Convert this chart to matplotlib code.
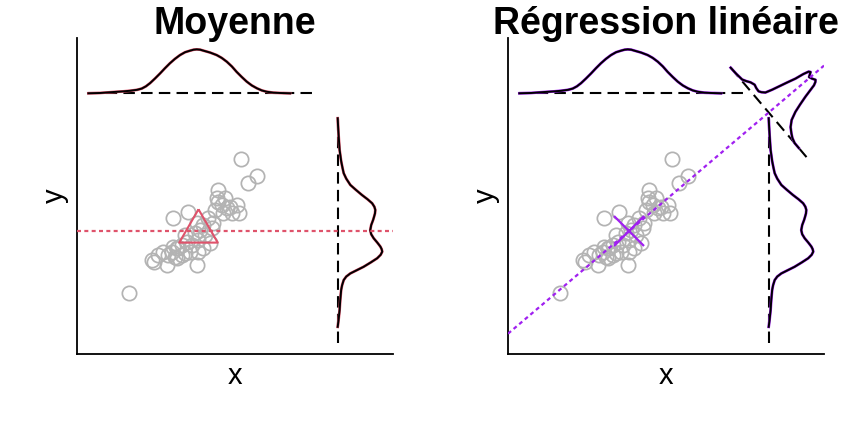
import numpy as np
import matplotlib
matplotlib.use("Agg")
import matplotlib.pyplot as plt

plt.rcParams['font.family'] = ['Liberation Sans', 'DejaVu Sans']

# ---- scatter data (axis units, 0..10) ----
x = np.array([5.19, 5.69, 5.42, 4.47, 4.42, 4.68, 4.58, 4.84, 5.05, 5.13,
              4.90, 4.37, 4.63, 4.74, 4.47, 3.52, 3.05, 4.16, 4.31, 4.00,
              3.79, 3.89, 3.73, 4.05, 3.84, 4.21, 3.47, 3.31, 3.16, 3.00,
              2.89, 2.73, 3.31, 3.58, 3.84, 4.00, 3.63, 3.10, 2.57, 2.36,
              2.45, 2.84, 3.79, 1.66, 4.26, 3.42, 3.21, 3.42, 3.05, 3.16])
y = np.array([6.16, 5.64, 5.40, 5.19, 4.93, 4.93, 4.72, 4.66, 4.72, 4.45,
              4.45, 4.56, 4.45, 4.61, 4.82, 4.50, 4.29, 4.29, 4.14, 4.08,
              4.14, 3.92, 3.82, 3.77, 3.61, 3.50, 3.55, 3.45, 3.34, 3.24,
              3.13, 3.24, 3.13, 3.24, 3.24, 3.34, 3.45, 3.08, 3.13, 2.97,
              2.92, 2.82, 2.82, 1.92, 3.98, 3.77, 3.34, 3.19, 3.40, 3.03])

# ---- marginal density of x (drawn above the plot) ----
xdens_pos = np.array([0.36, 0.73, 1.15, 1.45, 1.68, 1.90, 2.05, 2.18, 2.31, 2.47,
                      2.63, 2.78, 2.94, 3.10, 3.26, 3.42, 3.58, 3.69, 3.79, 3.90,
                      4.00, 4.21, 4.42, 4.58, 4.74, 4.90, 5.05, 5.21, 5.37, 5.53,
                      5.69, 5.85, 6.00, 6.21, 6.42, 6.74])
xdens_h = np.array([0.00, 0.01, 0.04, 0.06, 0.08, 0.11, 0.15, 0.22, 0.32, 0.47,
                    0.63, 0.79, 0.95, 1.09, 1.21, 1.30, 1.35, 1.38, 1.39, 1.38,
                    1.35, 1.29, 1.21, 1.12, 1.00, 0.85, 0.68, 0.52, 0.37, 0.25,
                    0.16, 0.09, 0.05, 0.02, 0.01, 0.00])

# ---- marginal density of y (drawn right of the plot) ----
ydens_pos = np.array([7.46, 7.25, 6.90, 6.46, 6.10, 5.90, 5.72, 5.55, 5.35, 5.19,
                      5.03, 4.90, 4.77, 4.66, 4.56, 4.45, 4.34, 4.24, 4.08, 3.92,
                      3.79, 3.66, 3.53, 3.40, 3.32, 3.24, 3.14, 3.03, 2.90, 2.76,
                      2.65, 2.55, 2.45, 2.34, 2.18, 2.03, 1.70, 1.39, 1.10, 0.86])
ydens_h = np.array([0.00, 0.01, 0.03, 0.06, 0.11, 0.15, 0.19, 0.27, 0.40, 0.58,
                    0.77, 0.94, 1.09, 1.16, 1.19, 1.18, 1.15, 1.12, 1.06, 1.03,
                    1.06, 1.14, 1.25, 1.35, 1.39, 1.41, 1.36, 1.25, 1.05, 0.82,
                    0.60, 0.40, 0.27, 0.19, 0.14, 0.11, 0.08, 0.06, 0.03, 0.00])

# ---- density of residuals (drawn perpendicular to the regression line) ----
resid_off = np.array([-1.86, -1.60, -1.34, -1.22, -1.10, -0.96, -0.84, -0.72, -0.64,
                      -0.55, -0.48, -0.42, -0.35, -0.27, -0.22, -0.17, -0.12, -0.03,
                      0.07, 0.17, 0.22, 0.27, 0.37, 0.45, 0.53, 0.65, 0.80, 0.97,
                      1.10, 1.27, 1.47])
resid_h = np.array([0.00, 0.01, 0.035, 0.10, 0.18, 0.23, 0.20, 0.19, 0.24,
                    0.33, 0.55, 0.78, 1.05, 1.34, 1.62, 1.80, 1.84, 1.70,
                    1.74, 1.80, 1.75, 1.65, 1.21, 0.92, 0.66, 0.40, 0.23, 0.12,
                    0.05, 0.00, 0.00])

titles = ["Moyenne", "Régression linéaire"]
RED = "#DF536B"
PURPLE = "#A020F0"
GREY = "#B3B3B3"

MARG_LO, MARG_HI = 0.35, 7.47   # extent of the marginal baselines
BASE = 8.25                      # position of the marginal baselines
RES_HALF = 1.85                  # half length of the residual baseline
DASH = (0, (5.5, 3))

fig = plt.figure(figsize=(8.64, 4.32), dpi=100)
axL = fig.add_axes([77 / 864, 78 / 432, 316 / 864, 316 / 432])
axR = fig.add_axes([508 / 864, 78 / 432, 316 / 864, 316 / 432])


def common(ax, accent, title):
    ax.set_xlim(0, 10)
    ax.set_ylim(0, 10)
    for s in ['top', 'right']:
        ax.spines[s].set_visible(False)
    for s in ['left', 'bottom']:
        ax.spines[s].set_linewidth(1.3)
    ax.set_xticks([])
    ax.set_yticks([])
    ax.set_xlabel('x', fontsize=21, labelpad=6)
    ax.set_ylabel('y', fontsize=21, labelpad=6)
    ax.text(0.5, 1.013, title, transform=ax.transAxes, ha='center', va='baseline',
            fontsize=27, fontweight='bold')
    ax.plot(x, y, 'o', mfc='none', mec=GREY, ms=10.3, mew=1.25, zorder=2)
    # x marginal
    ax.plot([MARG_LO, MARG_HI], [BASE, BASE], color='black', ls=DASH, lw=1.5, zorder=3)
    ax.plot(xdens_pos, BASE + xdens_h, color=accent, lw=2.0, zorder=3)
    ax.plot(xdens_pos, BASE + xdens_h, color='black', lw=1.4, zorder=3)
    # y marginal
    ax.plot([BASE, BASE], [MARG_LO, MARG_HI], color='black', ls=DASH, lw=1.5, zorder=3)
    ax.plot(BASE + ydens_h, ydens_pos, color=accent, lw=2.0, zorder=3)
    ax.plot(BASE + ydens_h, ydens_pos, color='black', lw=1.4, zorder=3)


common(axL, RED, titles[0])
common(axR, PURPLE, titles[1])

mx, my = x.mean(), y.mean()

# ---- left: mean ----
axL.axhline(my, color=RED, ls=(0, (1.8, 1.5)), lw=1.6, zorder=4)
tri = [(0, 1), (-0.866, -0.5), (0.866, -0.5), (0, 1)]
axL.plot([mx], [my], marker=tri, ms=32, mfc='none', mec=RED, mew=1.5, zorder=5)

# ---- right: linear regression ----
b, a = np.polyfit(x, y, 1)
xl = np.array(axR.get_xlim())
axR.plot(xl, a + b * xl, color=PURPLE, ls=(0, (1.8, 1.5)), lw=1.6, zorder=4)
axR.plot([mx], [my], marker='x', ms=21, mec=PURPLE, mew=1.6, zorder=5)

n = np.hypot(1, b)
u = np.array([b, -1]) / n      # perpendicular to the line
t = np.array([1, b]) / n       # along the line
anchor = np.array([BASE, a + b * BASE])
ends = anchor + np.outer([-RES_HALF, RES_HALF], u)
axR.plot(ends[:, 0], ends[:, 1], color='black', ls=DASH, lw=1.5, zorder=3)
pts = anchor + np.outer(resid_off, u) + np.outer(resid_h, t)
axR.plot(pts[:, 0], pts[:, 1], color=PURPLE, lw=2.0, zorder=3)
axR.plot(pts[:, 0], pts[:, 1], color='black', lw=1.4, zorder=3)

fig.savefig("out.png", dpi=100)
